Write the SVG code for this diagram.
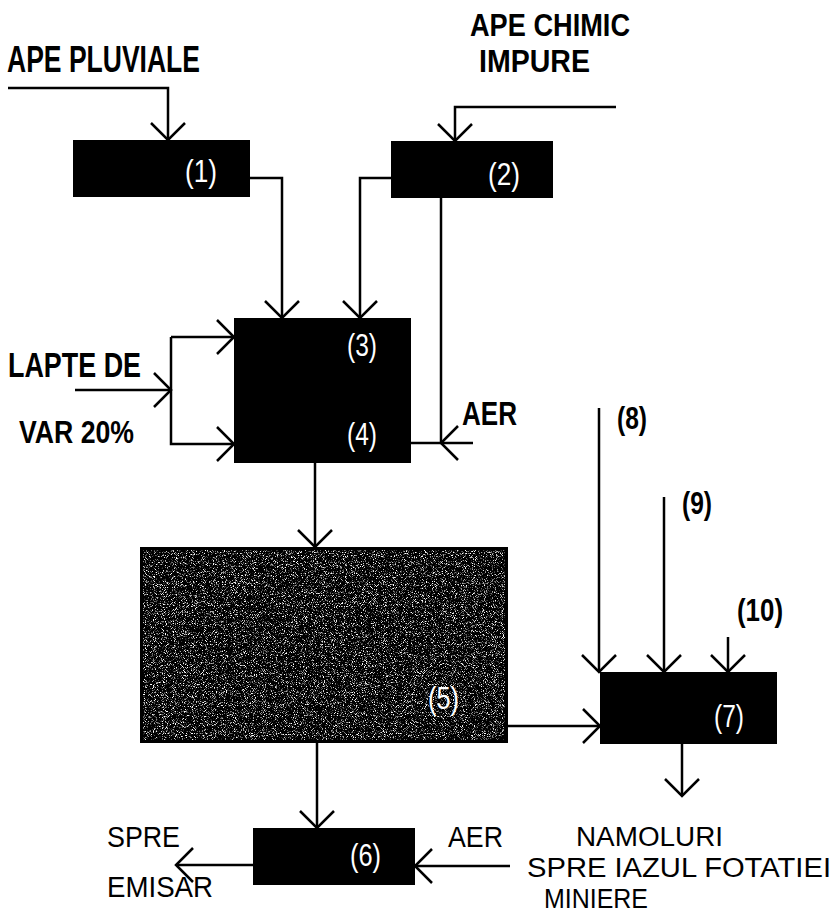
<svg xmlns="http://www.w3.org/2000/svg" width="837" height="920" viewBox="0 0 837 920">
<style>
.box{fill:#000;}
.c{fill:none;stroke:#000;stroke-width:2.5;}
.t{font-family:"Liberation Sans Narrow","Liberation Sans","DejaVu Sans Condensed",sans-serif;font-weight:bold;fill:#000;}
.r{font-family:"Liberation Sans Narrow","Liberation Sans","DejaVu Sans Condensed",sans-serif;font-weight:normal;fill:#000;}
.w{font-family:"Liberation Sans Narrow","Liberation Sans","DejaVu Sans Condensed",sans-serif;font-weight:normal;fill:#fff;font-size:32px;}
</style>
<defs>
<marker id="ah" markerUnits="userSpaceOnUse" markerWidth="40" markerHeight="40" refX="0" refY="0" viewBox="-20 -20 40 40" orient="auto" overflow="visible">
<path d="M-17,-17 L0,0 L-17,17" fill="none" stroke="#000" stroke-width="2.5"/>
</marker>
<filter id="noise" x="0" y="0" width="100%" height="100%">
<feTurbulence type="fractalNoise" baseFrequency="1.1" numOctaves="2" seed="7" result="n"/>
<feColorMatrix in="n" type="matrix" values="0 0 0 0 1  0 0 0 0 1  0 0 0 0 1  5 0 0 0 -2.7" result="s"/>
<feComposite in="s" in2="SourceGraphic" operator="in"/>
</filter>
</defs>

<g id="connectors">
<polyline class="c" points="8,88 168,88 168,140" marker-end="url(#ah)"/>
<polyline class="c" points="616,107 455,107 455,141" marker-end="url(#ah)"/>
<polyline class="c" points="250,178 282,178 282,318" marker-end="url(#ah)"/>
<polyline class="c" points="391,178 360,178 360,318" marker-end="url(#ah)"/>
<polyline class="c" points="441,198 441,443"/>
<polyline class="c" points="473,443 441,443" marker-end="url(#ah)"/>
<polyline class="c" points="441,443 411,443"/>
<polyline class="c" points="75,390 171,390" marker-end="url(#ah)"/>
<polyline class="c" points="171,337 234,337" marker-end="url(#ah)"/>
<polyline class="c" points="171,337 171,444 234,444" marker-end="url(#ah)"/>
<polyline class="c" points="315,463 315,547" marker-end="url(#ah)"/>
<polyline class="c" points="317,743 317,828" marker-end="url(#ah)"/>
<polyline class="c" points="508,726 600,726" marker-end="url(#ah)"/>
<polyline class="c" points="599,408 599,672" marker-end="url(#ah)"/>
<polyline class="c" points="664,497 664,672" marker-end="url(#ah)"/>
<polyline class="c" points="728,637 728,672" marker-end="url(#ah)"/>
<polyline class="c" points="682,744 682,796" marker-end="url(#ah)"/>
<polyline class="c" points="253,865 176,865" marker-end="url(#ah)"/>
<polyline class="c" points="510,866 415,866" marker-end="url(#ah)"/>
</g>

<g id="node1">
<rect class="box" x="73" y="140" width="177" height="57"/>
<text class="w" x="185" y="182" textLength="32" lengthAdjust="spacingAndGlyphs">(1)</text>
</g>
<g id="node2">
<rect class="box" x="391" y="141" width="162" height="57"/>
<text class="w" x="488" y="185" textLength="32" lengthAdjust="spacingAndGlyphs">(2)</text>
</g>
<g id="node34">
<rect class="box" x="234" y="318" width="177" height="145"/>
<text class="w" x="347" y="356" textLength="30" lengthAdjust="spacingAndGlyphs">(3)</text>
<text class="w" x="347" y="445" textLength="30" lengthAdjust="spacingAndGlyphs">(4)</text>
</g>
<g id="node5">
<rect class="box" x="140" y="547" width="368" height="196"/>
<rect x="143" y="550" width="362" height="190" fill="#fff" filter="url(#noise)"/>
<text class="w" x="428" y="709" font-weight="bold" textLength="31" lengthAdjust="spacingAndGlyphs">(5)</text>
</g>
<g id="node6">
<rect class="box" x="253" y="828" width="162" height="57"/>
<text class="w" x="350" y="866" textLength="31" lengthAdjust="spacingAndGlyphs">(6)</text>
</g>
<g id="node7">
<rect class="box" x="600" y="672" width="177" height="72"/>
<text class="w" x="714" y="727" textLength="30" lengthAdjust="spacingAndGlyphs">(7)</text>
</g>

<g id="labels">
<text class="t" x="7" y="72" font-size="36" textLength="193" lengthAdjust="spacingAndGlyphs">APE PLUVIALE</text>
<text class="t" x="470" y="36" font-size="32" textLength="160" lengthAdjust="spacingAndGlyphs">APE CHIMIC</text>
<text class="t" x="479" y="72" font-size="32" textLength="111" lengthAdjust="spacingAndGlyphs">IMPURE</text>
<text class="t" x="8" y="377" font-size="35" textLength="133" lengthAdjust="spacingAndGlyphs">LAPTE DE</text>
<text class="t" x="19" y="443" font-size="31" textLength="115" lengthAdjust="spacingAndGlyphs">VAR 20%</text>
<text class="t" x="462" y="425" font-size="33" textLength="55" lengthAdjust="spacingAndGlyphs">AER</text>
<text class="t" x="617" y="429" font-size="31" textLength="30" lengthAdjust="spacingAndGlyphs">(8)</text>
<text class="t" x="682" y="514" font-size="31" textLength="30" lengthAdjust="spacingAndGlyphs">(9)</text>
<text class="t" x="737" y="621" font-size="31" textLength="46" lengthAdjust="spacingAndGlyphs">(10)</text>
<text class="r" x="107" y="847" font-size="30" textLength="73" lengthAdjust="spacingAndGlyphs">SPRE</text>
<text class="r" x="107" y="897" font-size="30" textLength="106" lengthAdjust="spacingAndGlyphs">EMISAR</text>
<text class="r" x="448" y="847" font-size="30" textLength="55" lengthAdjust="spacingAndGlyphs">AER</text>
<text class="r" x="576" y="846" font-size="27" textLength="147" lengthAdjust="spacingAndGlyphs">NAMOLURI</text>
<text class="r" x="527" y="877" font-size="27" textLength="304" lengthAdjust="spacingAndGlyphs">SPRE IAZUL FOTATIEI</text>
<text class="r" x="544" y="908" font-size="27" textLength="104" lengthAdjust="spacingAndGlyphs">MINIERE</text>
</g>
</svg>
